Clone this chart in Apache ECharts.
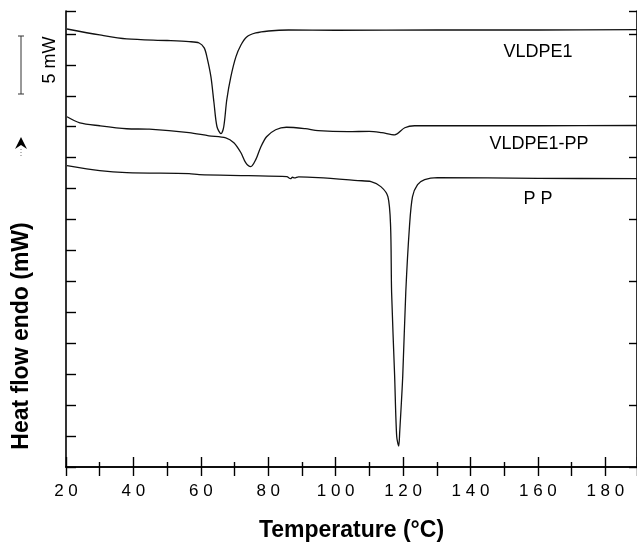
<!DOCTYPE html>
<html>
<head>
<meta charset="utf-8">
<script src="https://cdn.jsdelivr.net/npm/echarts@6/dist/echarts.min.js"></script>
<style>
html, body { margin: 0; padding: 0; background: #fff; }
#dsc-chart { width: 637px; height: 547px; }
</style>
</head>
<body>
<div id="dsc-chart"></div>
<script>
// heat flow: 5 units per major tick on the right frame
const vldpeTemp = [20.3, 30.0, 38.0, 50.0, 56.5, 59.5, 61.0, 61.8, 63.0, 63.9, 64.8, 66.0, 66.8, 67.7, 68.9, 70.4, 71.9, 73.6, 76.3, 80.1, 86.0, 100, 130, 160, 189.4];
const vldpeHeat = [35.40, 34.92, 34.60, 34.47, 34.38, 34.27, 33.87, 33.15, 31.53, 29.44, 27.50, 26.94, 27.50, 29.68, 31.53, 33.15, 34.11, 34.76, 35.08, 35.24, 35.32, 35.30, 35.32, 35.32, 35.35];

const blendTemp = [20.3, 24.1, 30.0, 38.0, 44.7, 56.5, 62.4, 67.4, 69.8, 71.9, 73.3, 74.8, 76.3, 77.7, 79.5, 82.2, 85.4, 91.0, 94.8, 103.7, 110.0, 113.7, 117.5, 120.5, 123.4, 140, 160, 189.4];
const blendHeat = [28.31, 27.82, 27.58, 27.34, 27.30, 27.02, 26.77, 26.61, 26.21, 25.40, 24.60, 24.27, 24.84, 25.81, 26.69, 27.26, 27.46, 27.34, 27.18, 27.10, 27.13, 27.02, 26.85, 27.42, 27.58, 27.58, 27.58, 27.60];

const ppTemp = [20.3, 30.0, 38.0, 56.5, 59.5, 74.2, 85.5, 86.6, 87.2, 87.8, 89.0, 94.8, 106.6, 110.5, 113.4, 115.5, 116.3, 116.6, 117.5, 118.1, 118.7, 119.0, 119.9, 120.8, 121.9, 122.8, 124.3, 126.4, 130.2, 160, 189.4];
const ppHeat = [24.35, 23.95, 23.79, 23.71, 23.63, 23.55, 23.47, 23.30, 23.42, 23.36, 23.45, 23.39, 23.15, 23.06, 22.66, 21.85, 19.44, 14.11, 7.34, 2.50, 1.69, 2.82, 7.34, 14.11, 19.44, 21.85, 22.82, 23.23, 23.39, 23.33, 23.31];

const seriesNames = ['VLDPE1', 'VLDPE1-PP', 'PP'];
const xTickLabels = [20, 40, 60, 80, 100, 120, 140, 160, 180];

function pairs(xs, ys) {
    return xs.map((x, i) => [x, ys[i]]);
}

const chart = echarts.init(document.getElementById('dsc-chart'));
const font = 'Liberation Sans, Arial, sans-serif';
const black = '#000';

function curve(name, xs, ys) {
    return {
        name: name,
        type: 'line',
        data: pairs(xs, ys),
        showSymbol: false,
        smooth: 0.3,
        lineStyle: { color: '#111', width: 1.3 },
        animation: false
    };
}

function frameAxis(extra) {
    return Object.assign({
        type: 'value',
        axisLine: { show: true, lineStyle: { color: black, width: 1.6 } },
        axisTick: { show: true, inside: true, length: 10, lineStyle: { color: black, width: 1.4 } },
        axisLabel: { show: false },
        splitLine: { show: false }
    }, extra);
}

const option = {
    backgroundColor: '#fff',
    grid: { left: 66, right: -4, top: 11, bottom: 79 },
    xAxis: [
        frameAxis({
            position: 'bottom',
            min: 20, max: 189.4, interval: 20,
            minorTick: { show: true, splitNumber: 2, length: 5, lineStyle: { color: black, width: 1.4 } },
            axisLabel: {
                show: true, margin: 16, fontSize: 17, color: black, fontFamily: font,
                showMaxLabel: false,
                formatter: v => xTickLabels.includes(v) ? String(v).split('').join(' ') : ''
            },
            name: 'Temperature (°C)',
            nameLocation: 'middle',
            nameGap: 52,
            nameTextStyle: { fontSize: 23, fontWeight: 'bold', color: black, fontFamily: font }
        }),
        frameAxis({
            position: 'top',
            min: 20, max: 189.4, interval: 10,
            axisTick: { show: true, inside: true, length: 9, lineStyle: { color: black, width: 1.4 } }
        })
    ],
    yAxis: [
        frameAxis({ position: 'left', min: 0, max: 36.855, interval: 2.5 }),
        frameAxis({
            position: 'right', min: 0, max: 36.855, interval: 5,
            axisTick: { show: true, inside: true, length: 8, lineStyle: { color: black, width: 1.4 } }
        })
    ],
    series: [
        curve(seriesNames[0], vldpeTemp, vldpeHeat),
        curve(seriesNames[1], blendTemp, blendHeat),
        curve(seriesNames[2], ppTemp, ppHeat)
    ],
    graphic: [
        // 5 mW scale bar
        { type: 'line', shape: { x1: 21, y1: 36, x2: 21, y2: 94 }, style: { stroke: '#333', lineWidth: 1 } },
        { type: 'line', shape: { x1: 18, y1: 36, x2: 24, y2: 36 }, style: { stroke: '#333', lineWidth: 1 } },
        { type: 'line', shape: { x1: 18, y1: 94, x2: 24, y2: 94 }, style: { stroke: '#333', lineWidth: 1 } },
        { type: 'text', x: 50, y: 60, rotation: Math.PI / 2,
          style: { text: '5 mW', fontSize: 18, fill: black, fontFamily: font, align: 'center', verticalAlign: 'middle' } },
        // endo arrow
        { type: 'polygon', shape: { points: [[21, 137], [27, 149], [21, 145], [15, 149]] }, style: { fill: black } },
        { type: 'line', shape: { x1: 21, y1: 149, x2: 21, y2: 158 }, style: { stroke: '#777', lineWidth: 1, lineDash: [1, 2] } },
        { type: 'text', x: 22, y: 336, rotation: Math.PI / 2,
          style: { text: 'Heat flow endo (mW)', fontSize: 23, fontWeight: 'bold', fill: black, fontFamily: font, align: 'center', verticalAlign: 'middle' } },
        { type: 'text', x: 538, y: 52,
          style: { text: seriesNames[0], fontSize: 18, fill: black, fontFamily: font, align: 'center', verticalAlign: 'middle' } },
        { type: 'text', x: 539, y: 144,
          style: { text: seriesNames[1], fontSize: 18, fill: black, fontFamily: font, align: 'center', verticalAlign: 'middle' } },
        { type: 'text', x: 538, y: 199,
          style: { text: 'P P', fontSize: 18, fill: black, fontFamily: font, align: 'center', verticalAlign: 'middle' } }
    ]
};

chart.setOption(option);
</script>
</body>
</html>
